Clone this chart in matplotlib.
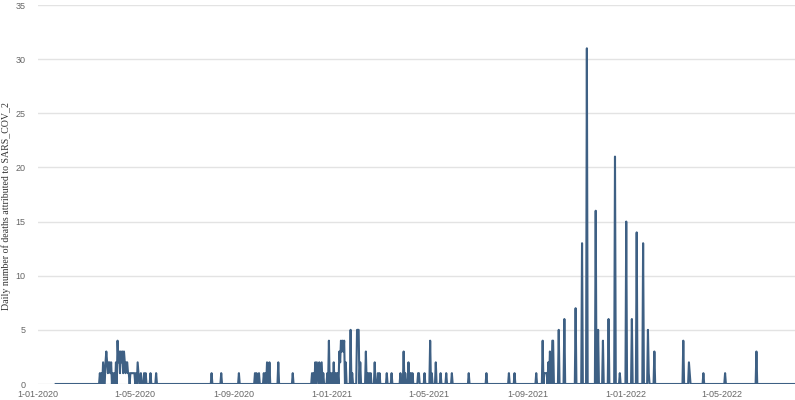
import pandas as pd
import matplotlib
matplotlib.use('Agg')
import matplotlib.pyplot as plt

# Période couverte par la série journalière
start_date = '2020-01-23'
end_date = '2022-07-31'

# Jours avec au moins un décès (les autres jours valent 0)
death_dates = [
    '2020-03-18', '2020-03-20', '2020-03-22', '2020-03-23', '2020-03-25', '2020-03-26',
    '2020-03-27', '2020-03-28', '2020-03-29', '2020-03-30', '2020-03-31', '2020-04-01',
    '2020-04-03', '2020-04-05', '2020-04-07', '2020-04-09', '2020-04-10', '2020-04-11',
    '2020-04-12', '2020-04-13', '2020-04-14', '2020-04-15', '2020-04-16', '2020-04-17',
    '2020-04-18', '2020-04-19', '2020-04-20', '2020-04-21', '2020-04-22', '2020-04-23',
    '2020-04-25', '2020-04-26', '2020-04-27', '2020-04-28', '2020-04-29', '2020-04-30',
    '2020-05-02', '2020-05-04', '2020-05-05', '2020-05-08', '2020-05-12', '2020-05-14',
    '2020-05-20', '2020-05-27',
    '2020-08-04', '2020-08-16', '2020-09-07', '2020-09-27', '2020-09-29', '2020-10-02',
    '2020-10-08', '2020-10-10', '2020-10-12', '2020-10-13', '2020-10-15', '2020-10-26',
    '2020-11-13',
    '2020-12-07', '2020-12-09', '2020-12-11', '2020-12-13', '2020-12-14', '2020-12-16',
    '2020-12-18', '2020-12-19', '2020-12-21', '2020-12-26', '2020-12-28', '2020-12-30',
    '2021-01-01', '2021-01-03', '2021-01-05', '2021-01-07', '2021-01-08', '2021-01-10',
    '2021-01-11', '2021-01-12', '2021-01-13', '2021-01-14', '2021-01-15', '2021-01-16',
    '2021-01-18', '2021-01-24', '2021-01-26', '2021-02-01', '2021-02-02', '2021-02-03',
    '2021-02-05', '2021-02-12', '2021-02-14', '2021-02-16', '2021-02-18', '2021-02-23',
    '2021-02-27', '2021-03-01', '2021-03-10', '2021-03-16',
    '2021-03-27', '2021-03-31', '2021-04-02', '2021-04-06', '2021-04-08', '2021-04-09',
    '2021-04-11', '2021-04-18', '2021-04-19', '2021-04-26', '2021-05-03', '2021-05-05',
    '2021-05-10', '2021-05-16', '2021-05-23', '2021-05-30', '2021-06-20', '2021-07-12',
    '2021-08-09', '2021-08-16', '2021-09-12',
    '2021-09-20', '2021-09-22', '2021-09-23', '2021-09-24', '2021-09-25', '2021-09-27',
    '2021-09-29', '2021-09-30', '2021-10-02', '2021-10-03', '2021-10-10', '2021-10-17',
    '2021-10-31', '2021-11-08', '2021-11-14', '2021-11-25', '2021-11-28', '2021-12-04',
    '2021-12-11', '2021-12-19', '2021-12-25', '2022-01-02', '2022-01-09', '2022-01-15',
    '2022-01-23', '2022-01-29', '2022-01-30', '2022-02-06',
    '2022-03-14', '2022-03-21', '2022-03-22', '2022-04-08', '2022-05-05', '2022-06-13',
]
death_counts = [
    1, 1, 2, 1, 2, 3,
    2, 1, 2, 2, 1, 2,
    1, 1, 2, 4, 2, 3,
    1, 3, 2, 3, 1, 3,
    2, 1, 2, 2, 1, 1,
    1, 1, 1, 1, 1, 1,
    1, 2, 1, 1, 1, 1,
    1, 1,
    1, 1, 1, 1, 1, 1,
    1, 1, 2, 1, 2, 2,
    1,
    1, 1, 2, 2, 1, 2,
    1, 2, 1, 1, 4, 1,
    1, 2, 1, 1, 1, 3,
    2, 4, 3, 4, 3, 4,
    2, 5, 1, 5, 5, 5,
    2, 3, 1, 1, 1, 2,
    1, 1, 1, 1,
    1, 3, 1, 2, 1, 1,
    1, 1, 1, 1, 4, 1,
    2, 1, 1, 1, 1, 1,
    1, 1, 1,
    4, 1, 1, 1, 1, 2,
    3, 2, 4, 4, 5, 6,
    7, 13, 31, 16, 5, 4,
    6, 21, 1, 15, 6, 14,
    13, 5, 1, 3,
    4, 2, 1, 1, 1, 3,
]

x_ticks = ['2020-01-01', '2020-05-01', '2020-09-01', '2021-01-01',
           '2021-05-01', '2021-09-01', '2022-01-01', '2022-05-01']

# Construction de la série journalière
days = pd.date_range(start_date, end_date, freq='D')
deaths = pd.Series(0, index=days, dtype=float)
deaths.loc[pd.to_datetime(death_dates)] = death_counts

fig = plt.figure(figsize=(7.95, 4.0), dpi=100)
ax = fig.add_axes([0.0478, 0.04, 0.9522, 0.9475])

ax.plot(deaths.index, deaths.values, color='#3e6084', linewidth=1.5, zorder=3)

ax.set_ylim(0, 35)
ax.set_yticks(range(0, 36, 5))
ax.set_xlim(pd.Timestamp('2020-01-01'), pd.Timestamp(end_date))

tick_dates = pd.to_datetime(x_ticks)
ax.set_xticks(tick_dates)
ax.set_xticklabels([f'{d.day}-{d.month:02d}-{d.year}' for d in tick_dates])

ax.grid(axis='y', color='#e3e3e3', linewidth=1)
ax.set_axisbelow(True)
for side in ['top', 'right', 'left', 'bottom']:
    ax.spines[side].set_visible(False)
ax.tick_params(axis='both', length=0, labelsize=6.5, labelcolor='#666666')
ax.tick_params(axis='x', pad=4)
ax.tick_params(axis='y', pad=9)
for lab in ax.get_xticklabels() + ax.get_yticklabels():
    lab.set_family('Liberation Sans')

# Titre de l'axe Y, placé à la main contre le bord gauche
fig.text(6 / 795, 1 - 206 / 400, 'Daily number of deaths attributed to SARS_COV_2',
         rotation=90, ha='center', va='center',
         family='Liberation Serif', fontsize=7.1, color='#333333')

plt.savefig('out.png', dpi=100)
